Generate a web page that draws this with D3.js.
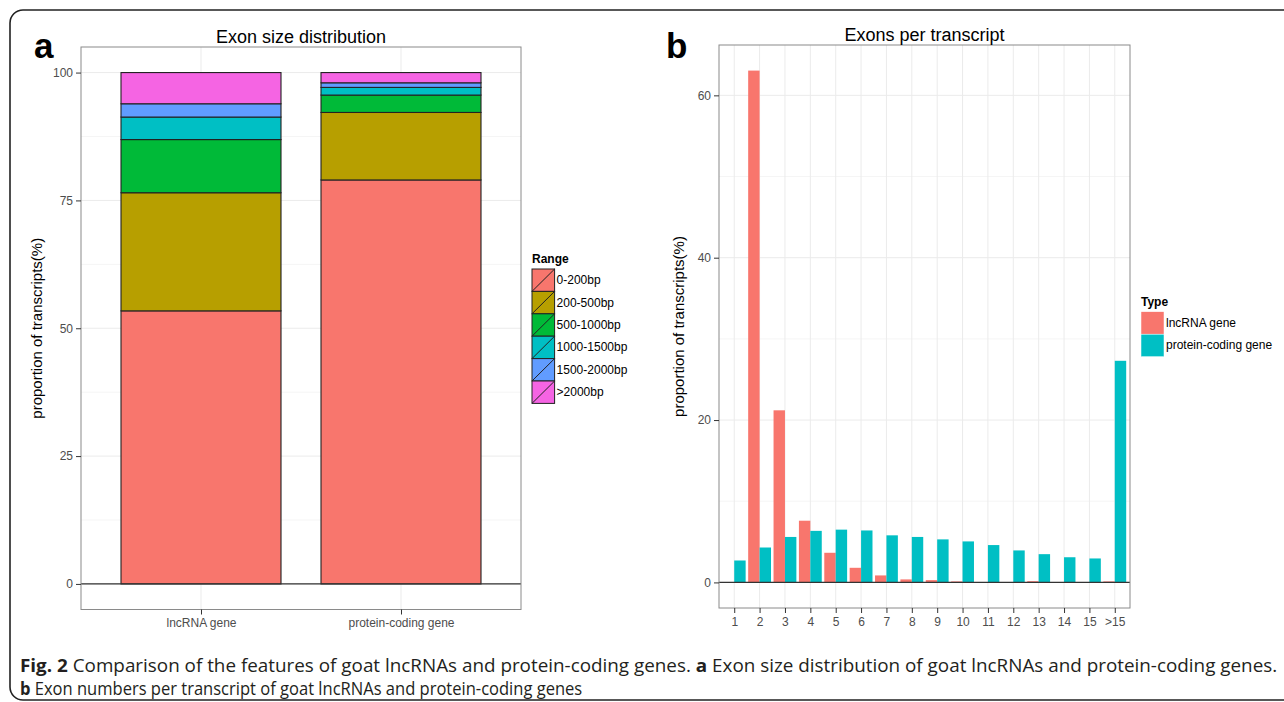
<!DOCTYPE html>
<html>
<head>
<meta charset="utf-8">
<script src="https://cdn.jsdelivr.net/npm/d3@7"></script>
<style>
  body { margin: 0; background: #fff; }
  svg { display: block; }
</style>
</head>
<body>
<div id="chart-container"></div>
<script>
// panel a data: exon size ranges, % of transcripts
const geneTypes = ['lncRNA gene', 'protein-coding gene'];
const sizeRanges = ['0-200bp', '200-500bp', '500-1000bp', '1000-1500bp', '1500-2000bp', '>2000bp'];
const lncSizePct = [53.4, 23.1, 10.4, 4.4, 2.6, 6.1];
const pcSizePct = [79.0, 13.2, 3.4, 1.5, 0.9, 2.0];
const sizeTicks = [0, 25, 50, 75, 100];

// panel b data: exons per transcript, % of transcripts
const exonCounts = ['1', '2', '3', '4', '5', '6', '7', '8', '9', '10', '11', '12', '13', '14', '15', '>15'];
const lncExonPct = [0, 63.05, 21.2, 7.6, 3.65, 1.8, 0.86, 0.37, 0.28, 0.12, 0.03, 0.05, 0.15, 0.02, 0.02, 0.12];
const pcExonPct = [2.7, 4.3, 5.6, 6.35, 6.5, 6.4, 5.8, 5.6, 5.3, 5.05, 4.6, 3.94, 3.48, 3.1, 2.95, 27.3];
const exonTicks = [0, 20, 40, 60];

const rangeColors = ['#F8766D', '#B79F00', '#00BA38', '#00BFC4', '#619CFF', '#F564E3'];
const typeColors = ['#F8766D', '#00BFC4'];

const W = 1284, H = 702;
const FONT = '"Liberation Sans", Arial, sans-serif';

const svg = d3.select('#chart-container').append('svg')
  .attr('width', W).attr('height', H);

// outer frame
svg.append('rect')
  .attr('x', 10).attr('y', 10).attr('width', W + 20).attr('height', 690)
  .attr('rx', 13).attr('fill', 'none').attr('stroke', '#222').attr('stroke-width', 1.6);

function drawPanel(opt) {
  const g = svg.append('g');
  const { left, right, top, bottom } = opt;

  const x = d3.scalePoint().domain(opt.cats).range([left, right]).padding(0.6);
  const y = d3.scaleLinear().domain(opt.yDomain).range([bottom, top]);

  g.append('rect').attr('x', left).attr('y', top)
    .attr('width', right - left).attr('height', bottom - top).attr('fill', '#fff');

  // minor grid
  const minor = [];
  for (let i = 0; i < opt.ticks.length - 1; i++) minor.push((opt.ticks[i] + opt.ticks[i + 1]) / 2);
  g.selectAll('.minor').data(minor).enter().append('line')
    .attr('x1', left).attr('x2', right)
    .attr('y1', d => y(d)).attr('y2', d => y(d))
    .attr('stroke', '#f5f5f5').attr('stroke-width', 1);

  // major grid
  g.selectAll('.hmajor').data(opt.ticks).enter().append('line')
    .attr('x1', left).attr('x2', right)
    .attr('y1', d => y(d)).attr('y2', d => y(d))
    .attr('stroke', '#ebebeb').attr('stroke-width', 1);
  g.selectAll('.vmajor').data(opt.cats).enter().append('line')
    .attr('x1', d => x(d)).attr('x2', d => x(d))
    .attr('y1', top).attr('y2', bottom)
    .attr('stroke', '#ebebeb').attr('stroke-width', 1);

  return { g, x, y };
}

function styleAxis(ax) {
  ax.select('.domain').remove();
  ax.selectAll('.tick line').attr('stroke', '#333').attr('stroke-width', 1);
  ax.selectAll('.tick text').attr('fill', '#4d4d4d').style('font-family', FONT).style('font-size', '12px');
}

function finishPanel(p, opt) {
  const { left, right, top, bottom } = opt;
  // zero line
  p.g.append('line').attr('x1', left).attr('x2', right)
    .attr('y1', p.y(0)).attr('y2', p.y(0))
    .attr('stroke', '#333').attr('stroke-width', 1.3);
  // border
  p.g.append('rect').attr('x', left).attr('y', top)
    .attr('width', right - left).attr('height', bottom - top)
    .attr('fill', 'none').attr('stroke', '#8a8a8a').attr('stroke-width', 1);

  const ya = p.g.append('g').attr('transform', 'translate(' + left + ',0)')
    .call(d3.axisLeft(p.y).tickValues(opt.ticks).tickSize(5).tickPadding(3));
  styleAxis(ya);
  const xa = p.g.append('g').attr('transform', 'translate(0,' + bottom + ')')
    .call(d3.axisBottom(p.x).tickSize(5).tickPadding(4));
  styleAxis(xa);

  p.g.append('text')
    .attr('transform', 'translate(' + opt.yLabelX + ',' + ((top + bottom) / 2) + ') rotate(-90)')
    .attr('text-anchor', 'middle').style('font-family', FONT).style('font-size', '15px')
    .text('proportion of transcripts(%)');

  p.g.append('text').attr('x', (left + right) / 2).attr('y', opt.titleY)
    .attr('text-anchor', 'middle').style('font-family', FONT).style('font-size', '18px')
    .text(opt.title);

  p.g.append('text').attr('x', opt.tagX).attr('y', 58)
    .style('font-family', FONT).style('font-size', '35px').style('font-weight', 'bold')
    .text(opt.tag);
}

// ---------- panel a ----------
const optA = {
  left: 81, right: 521, top: 47, bottom: 609.5,
  cats: geneTypes, yDomain: [-5, 105], ticks: sizeTicks,
  title: 'Exon size distribution', titleY: 43, tag: 'a', tagX: 34, yLabelX: 42
};
const pA = drawPanel(optA);
const bwA = pA.x.step() * 0.8;
const sizeSeries = [lncSizePct, pcSizePct];
const stacked = [];
geneTypes.forEach((gt, gi) => {
  let cum = 0;
  sizeRanges.forEach((r, ri) => {
    stacked.push({ gt, ri, y0: cum, y1: cum + sizeSeries[gi][ri] });
    cum += sizeSeries[gi][ri];
  });
});
pA.g.selectAll('.seg').data(stacked).enter().append('rect')
  .attr('x', d => pA.x(d.gt) - bwA / 2)
  .attr('width', bwA)
  .attr('y', d => pA.y(d.y1))
  .attr('height', d => pA.y(d.y0) - pA.y(d.y1))
  .attr('fill', d => rangeColors[d.ri])
  .attr('stroke', '#222').attr('stroke-width', 1.1);
finishPanel(pA, optA);

// legend a
const legA = svg.append('g').attr('transform', 'translate(532,0)');
legA.append('text').attr('x', 0).attr('y', 263)
  .style('font-family', FONT).style('font-size', '12px').style('font-weight', 'bold').text('Range');
const keyH = 22.4, keyW = 22.6, legTop = 269;
sizeRanges.forEach((r, i) => {
  const ky = legTop + i * keyH;
  legA.append('rect').attr('x', 0).attr('y', ky).attr('width', keyW).attr('height', keyH)
    .attr('fill', rangeColors[i]).attr('stroke', '#222').attr('stroke-width', 1);
  legA.append('line').attr('x1', 0).attr('y1', ky + keyH).attr('x2', keyW).attr('y2', ky)
    .attr('stroke', '#222').attr('stroke-width', 1);
  legA.append('text').attr('x', keyW + 2).attr('y', ky + keyH / 2 + 4)
    .style('font-family', FONT).style('font-size', '12px').text(r);
});

// ---------- panel b ----------
const maxB = d3.max(lncExonPct.concat(pcExonPct));
const optB = {
  left: 719, right: 1130, top: 45, bottom: 608,
  cats: exonCounts, yDomain: [-0.05 * maxB, maxB * 1.05], ticks: exonTicks,
  title: 'Exons per transcript', titleY: 41, tag: 'b', tagX: 666, yLabelX: 684
};
const pB = drawPanel(optB);
const bwB = pB.x.step() * 0.9 / 2;
const dodged = [];
exonCounts.forEach((c, i) => {
  dodged.push({ c, t: 0, v: lncExonPct[i] });
  dodged.push({ c, t: 1, v: pcExonPct[i] });
});
pB.g.selectAll('.bar').data(dodged.filter(d => d.v > 0)).enter().append('rect')
  .attr('x', d => pB.x(d.c) - bwB + d.t * bwB)
  .attr('width', bwB)
  .attr('y', d => pB.y(d.v))
  .attr('height', d => pB.y(0) - pB.y(d.v))
  .attr('fill', d => typeColors[d.t]);
finishPanel(pB, optB);

// legend b
const legB = svg.append('g').attr('transform', 'translate(1141,0)');
legB.append('text').attr('x', 0).attr('y', 306)
  .style('font-family', FONT).style('font-size', '12px').style('font-weight', 'bold').text('Type');
geneTypes.forEach((t, i) => {
  const ky = 311.7 + i * 22.5;
  legB.append('rect').attr('x', 0).attr('y', ky).attr('width', 23).attr('height', 22.5)
    .attr('fill', typeColors[i]).attr('stroke', '#fff').attr('stroke-width', 0.5);
  legB.append('text').attr('x', 25).attr('y', ky + 22.5 / 2 + 4)
    .style('font-family', FONT).style('font-size', '12px').text(t);
});

// ---------- caption ----------
const CAP = '"Open Sans", "Noto Sans", sans-serif';
function captionLine(parts, yb, targetW) {
  const t = svg.append('text').attr('x', 0).attr('y', yb)
    .style('font-family', CAP).style('font-size', '18px').attr('fill', '#231f20');
  parts.forEach(p => {
    t.append('tspan').style('font-weight', p.b ? 'bold' : 'normal').text(p.s);
  });
  const len = t.node().getComputedTextLength();
  t.attr('transform', 'translate(20,0) scale(' + (targetW / len) + ',1)');
}
captionLine([
  { s: 'Fig. 2', b: true },
  { s: ' Comparison of the features of goat lncRNAs and protein-coding genes. ' },
  { s: 'a', b: true },
  { s: ' Exon size distribution of goat lncRNAs and protein-coding genes.' }
], 672, 1258);
captionLine([
  { s: 'b', b: true },
  { s: ' Exon numbers per transcript of goat lncRNAs and protein-coding genes' }
], 695, 563);
</script>
</body>
</html>
